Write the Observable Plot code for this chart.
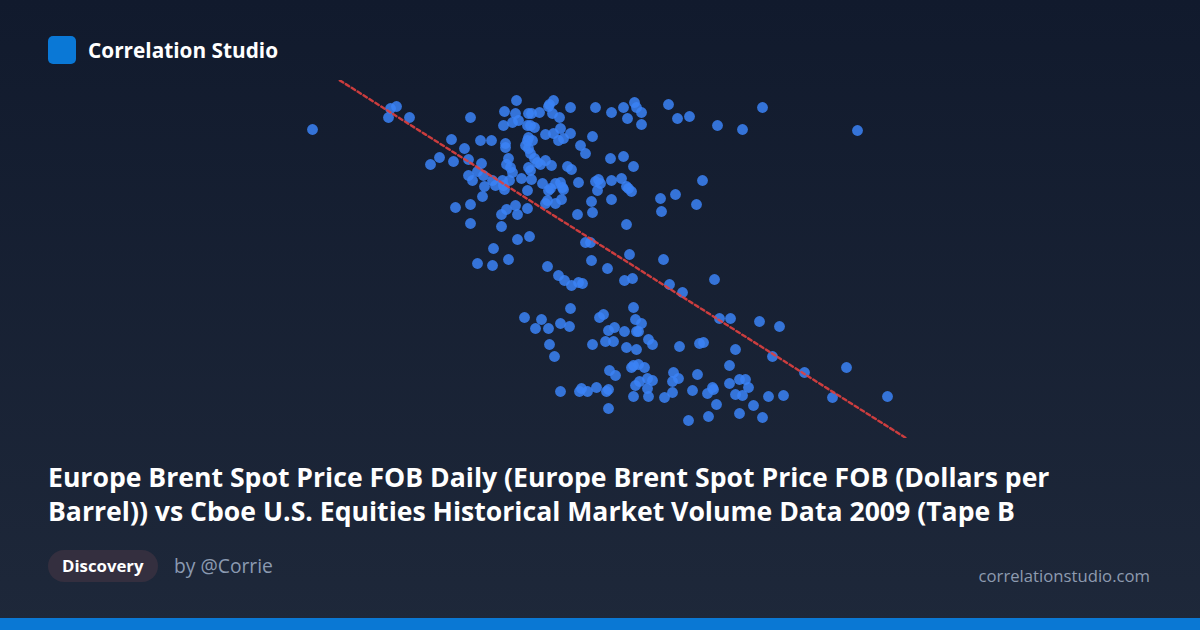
<!DOCTYPE html>
<html>
<head>
<meta charset="utf-8">
<script src="https://cdn.jsdelivr.net/npm/d3@7"></script>
<script src="https://cdn.jsdelivr.net/npm/@observablehq/plot@0.6"></script>
<style>
  html, body { margin: 0; padding: 0; }
  body { width: 1200px; height: 630px; overflow: hidden; position: relative;
    background: linear-gradient(180deg, #111a2d 0%, #1e283a 100%);
    font-family: "Open Sans", "Noto Sans", sans-serif; }
  #chart { position: absolute; left: 0; top: 0; }
  .logo { position: absolute; left: 48px; top: 36px; width: 28px; height: 28px; border-radius: 5px; background: #0a78d6; }
  .brand { position: absolute; left: 88px; top: 35px; font-size: 20.8px; font-weight: 700; color: #ffffff; line-height: 30px; }
  .title { position: absolute; left: 48px; top: 460px; font-size: 26.6px; font-weight: 700; color: #ffffff; line-height: 34px; white-space: nowrap; }
  .pill { position: absolute; left: 48px; top: 550px; height: 32px; padding: 0 14px; border-radius: 16px; background: #342f3f; color: #fff; font-size: 16.8px; font-weight: 700; line-height: 32px; }
  .by { position: absolute; left: 174px; top: 550px; font-size: 19.3px; line-height: 32px; color: #8b9ab1; }
  .site { position: absolute; right: 50px; top: 561px; font-size: 16.7px; line-height: 30px; color: #8e9bb0; }
  .bar { position: absolute; left: 0; bottom: 0; width: 1200px; height: 12px; background: #0a78d4; }
</style>
</head>
<body>
<div id="chart"></div>
<div class="logo"></div>
<div class="brand">Correlation Studio</div>
<div class="title">Europe Brent Spot Price FOB Daily (Europe Brent Spot Price FOB (Dollars per<br>Barrel)) vs Cboe U.S. Equities Historical Market Volume Data 2009 (Tape B</div>
<div class="pill">Discovery</div>
<div class="by">by @Corrie</div>
<div class="site">correlationstudio.com</div>
<div class="bar"></div>
<script>
// Brent spot price (USD/bbl)
const brent = [
31.2,39.6,39.0,38.8,40.9,47.0,45.1,48.0,49.1,46.4,43.9,43.0,45.3,46.8,48.1,46.8,47.7,47.2,48.3,49.2,
49.5,48.4,48.2,45.5,47.0,47.0,49.3,47.7,49.2,50.8,50.1,50.6,51.5,51.7,50.1,52.7,51.6,50.4,51.5,50.3,
51.2,51.8,52.8,52.7,50.5,50.5,50.8,50.6,51.0,51.2,50.2,50.3,50.4,50.9,52.1,52.7,55.3,54.9,54.8,53.1,
53.9,55.2,55.9,57.0,59.5,61.1,62.3,63.4,63.6,64.1,62.7,64.1,66.8,67.7,68.9,53.0,53.4,54.5,55.3,56.0,
57.0,56.3,55.8,59.2,52.8,52.7,53.2,52.5,52.8,58.0,58.5,61.0,62.3,63.3,53.0,53.4,53.7,54.5,55.1,54.0,
52.8,53.0,56.7,57.1,53.1,54.2,55.0,54.8,55.5,56.0,56.2,56.3,57.8,59.5,59.8,60.0,59.7,61.1,62.1,62.6,
62.8,63.1,54.7,54.5,55.5,56.1,59.1,59.2,61.1,57.7,66.0,67.5,66.1,69.6,70.2,62.6,51.7,52.9,58.5,59.0,
62.9,66.3,59.1,54.7,55.8,56.4,57.1,57.8,58.2,60.7,62.4,63.2,66.9,68.2,71.4,57.0,52.4,54.1,53.5,54.8,
56.0,56.9,63.3,59.9,60.3,63.5,64.1,60.8,61.4,62.4,63.6,63.8,54.9,55.4,59.2,60.5,61.3,62.6,63.6,64.8,
65.2,67.9,69.9,60.9,61.5,63.1,63.3,63.8,64.4,63.5,63.9,64.7,65.2,64.7,64.8,63.3,66.4,67.2,67.2,67.8,
67.3,69.2,69.7,56.0,57.9,58.1,58.7,59.6,60.6,60.8,60.8,68.8,71.9,73.0,75.9,77.9,70.3,73.5,77.2,80.4,
84.6,72.9,73.9,74.5,72.9,74.8,71.2,71.3,70.7,73.5,74.2,76.8,78.3,83.2,88.7,71.6,75.3,70.8,73.9,76.2,
76.2,71.7,74.2,85.7
];
// Cboe Tape B market volume (billion shares)
const volume = [
3.71,3.94,3.92,3.83,3.83,3.83,3.61,3.60,3.60,3.52,3.43,3.36,3.39,3.41,3.37,3.25,3.29,3.20,3.25,3.20,
3.15,3.14,3.04,2.93,2.96,2.77,2.52,2.37,2.35,2.41,2.86,2.91,2.95,2.86,2.74,2.92,4.00,3.89,3.87,3.75,
3.78,3.80,3.87,3.75,3.57,3.53,3.42,3.36,3.33,3.28,3.20,3.15,3.11,3.20,3.22,3.10,4.00,3.96,3.94,3.87,
3.88,3.87,3.83,3.93,3.93,3.88,3.93,3.98,3.93,3.88,3.82,3.76,3.96,3.82,3.84,3.75,3.73,3.66,3.67,3.72,
3.67,3.62,3.60,3.64,3.63,3.60,3.60,3.55,3.52,3.55,3.47,3.42,3.44,3.34,3.47,3.42,3.38,3.40,3.35,3.36,
3.33,3.30,3.34,3.31,3.21,3.17,3.12,3.10,3.17,3.18,3.13,3.11,3.18,3.19,3.21,3.17,3.10,3.20,3.22,3.14,
3.12,3.09,3.00,2.97,2.97,3.01,2.99,2.88,3.01,2.86,3.02,3.06,2.89,2.96,3.20,2.76,2.61,2.64,2.58,2.58,
2.46,2.41,2.40,2.34,2.25,2.20,2.15,2.18,2.17,2.32,2.20,2.22,2.16,2.08,2.21,1.92,1.83,1.81,1.72,1.72,
1.77,1.74,1.93,1.83,1.86,1.81,1.77,1.70,1.73,1.69,1.69,1.69,1.56,1.44,1.56,1.59,1.59,1.53,1.51,1.61,
1.56,1.54,1.57,1.30,1.25,1.33,1.35,1.36,1.33,1.15,1.19,1.22,1.20,1.12,1.04,1.04,1.03,1.08,1.19,1.22,
1.28,1.10,1.26,1.09,1.09,1.12,1.09,1.13,1.09,1.11,0.92,0.80,1.82,1.82,1.79,1.74,1.58,1.51,1.44,1.28,
1.33,1.35,1.21,1.21,1.17,1.13,1.13,1.11,1.07,1.06,1.05,1.04,1.05,1.03,1.04,0.96,0.95,0.84,0.87,0.83,
3.93,3.75,3.71,3.70
];
const xDomain = [29.2, 90.8];
const yDomain = [0.62, 4.20];

const points = brent.map((b, i) => ({brent: b, volume: volume[i]}));
// least-squares fit of volume on price
const mx = d3.mean(points, d => d.brent), my = d3.mean(points, d => d.volume);
const sxy = d3.sum(points, d => (d.brent - mx) * (d.volume - my));
const sxx = d3.sum(points, d => (d.brent - mx) ** 2);
const slope = sxy / sxx, intercept = my - slope * mx;
const trend = xDomain.map(x => ({brent: x, volume: intercept + slope * x}));

const plot = Plot.plot({
  width: 1200,
  height: 450,
  marginLeft: 292,
  marginRight: 292,
  marginTop: 80,
  marginBottom: 12,
  style: {background: "transparent", overflow: "visible"},
  x: {domain: xDomain, axis: null},
  y: {domain: yDomain, axis: null},
  marks: [
    Plot.dot(points, {x: "brent", y: "volume", r: 5.4, fill: "#3b82f6", fillOpacity: 0.85, stroke: "none"}),
    Plot.line(trend, {x: "brent", y: "volume", stroke: "#e0403f", strokeWidth: 2.4, strokeDasharray: "4,3", strokeOpacity: 0.9, clip: true})
  ]
});
document.getElementById("chart").appendChild(plot);
</script>
</body>
</html>
